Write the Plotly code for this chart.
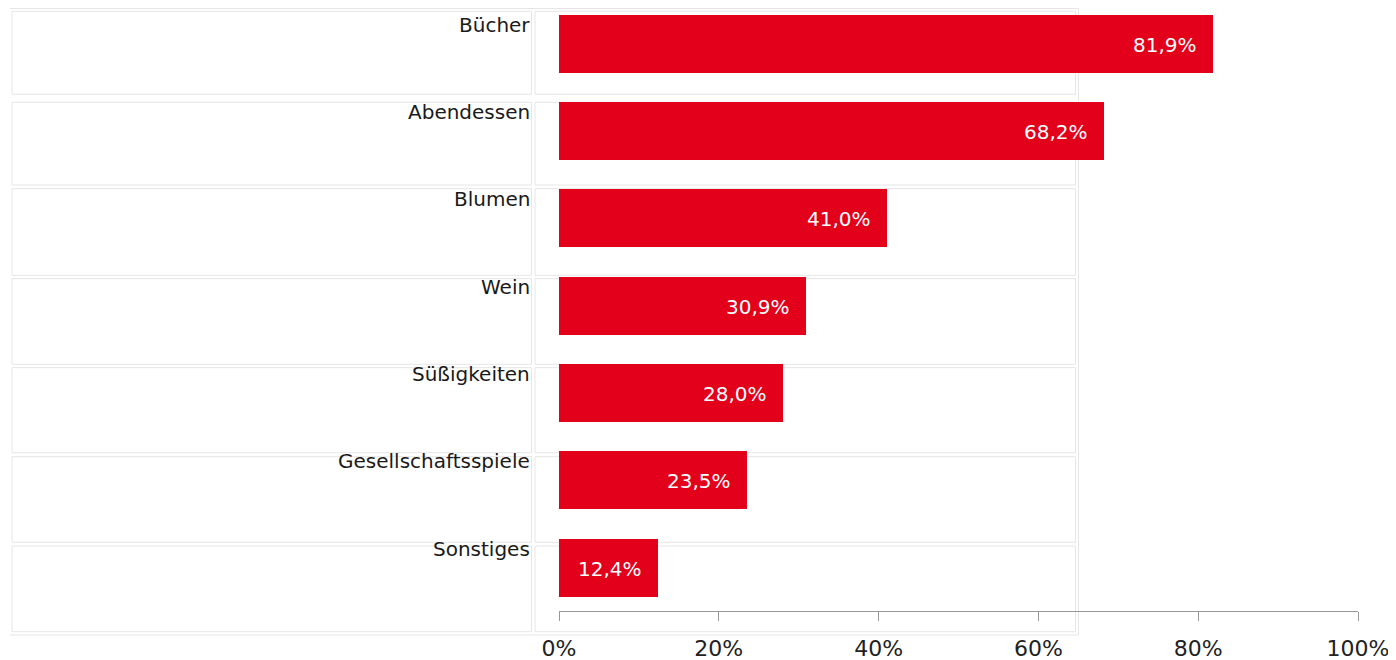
import plotly.graph_objects as go

categories = ["Bücher", "Abendessen", "Blumen", "Wein", "Süßigkeiten", "Gesellschaftsspiele", "Sonstiges"]
values = [81.9, 68.2, 41.0, 30.9, 28.0, 23.5, 12.4]
value_labels = ["81,9%", "68,2%", "41,0%", "30,9%", "28,0%", "23,5%", "12,4%"]
tick_values = [0, 20, 40, 60, 80, 100]
tick_labels = ["0%", "20%", "40%", "60%", "80%", "100%"]

# page body adds an 8px offset
OFF = 8
W, H = 1396 - OFF, 660 - OFF
ML, MR, MT, MB = 559 - OFF, 38, 0, 49
PW, PH = W - ML - MR, H - MT - MB

def px_x(p):  # screen pixel -> paper
    return (p - OFF - ML) / PW

def px_y(p):
    return 1 - (p - OFF - MT) / PH

RED = "#E2001A"
FONT = "DejaVu Sans"

fig = go.Figure()
fig.add_trace(go.Bar(
    x=values, y=categories, orientation="h",
    marker=dict(color=RED, line=dict(width=0)),
    width=0.664, hoverinfo="skip",
))

shapes = []
line_style = dict(color="#e6e6e6", width=1)
row_tops = [11.3, 102.3, 188.7, 278.7, 367.7, 456.7, 546]
row_bottoms = [94.3, 185, 275.3, 364.3, 452.7, 542.3, 631.7]
for t, b in zip(row_tops, row_bottoms):
    for x0, x1 in [(12, 531.5), (535, 1075.5)]:
        shapes.append(dict(type="rect", xref="paper", yref="paper",
                           x0=px_x(x0), x1=px_x(x1), y0=px_y(b), y1=px_y(t),
                           line=line_style, fillcolor="rgba(0,0,0,0)", layer="below"))
for (x0, y0, x1, y1) in [(10, 8.5, 1078.5, 8.5), (10, 635, 1078.5, 635), (1078.5, 8.5, 1078.5, 635)]:
    shapes.append(dict(type="line", xref="paper", yref="paper",
                       x0=px_x(x0), x1=px_x(x1), y0=px_y(y0), y1=px_y(y1),
                       line=line_style, layer="below"))

annotations = []
for c, v, lab in zip(categories, values, value_labels):
    annotations.append(dict(x=0, xref="paper", xshift=-27, y=c, yref="y", yshift=19,
                            text=c, showarrow=False, xanchor="right", yanchor="middle",
                            font=dict(family=FONT, size=20, color="#1a1a1a")))
    annotations.append(dict(x=v, xref="x", y=c, yref="y", xshift=-14, yshift=-1,
                            text=lab, showarrow=False, xanchor="right", yanchor="middle",
                            font=dict(family=FONT, size=20, color="white")))

# screen y of category centres: 43.7 + 87.35*i ; plot area spans screen 8..611
y_top = (OFF + MT - 43.7) / 87.35
y_bot = (OFF + MT + PH - 43.7) / 87.35

fig.update_layout(
    width=W, height=H,
    margin=dict(l=ML, r=MR, t=MT, b=MB, pad=0),
    plot_bgcolor="white", paper_bgcolor="white",
    showlegend=False,
    shapes=shapes, annotations=annotations,
    bargap=0,
    xaxis=dict(range=[0, 100], tickvals=tick_values, ticktext=tick_labels,
               showgrid=False, zeroline=False, showline=True, linecolor="#999999",
               linewidth=1, ticks="outside", ticklen=9, tickcolor="#999999",
               tickfont=dict(family=FONT, size=22, color="#222222"),
               ticklabelstandoff=9, fixedrange=True),
    yaxis=dict(range=[y_bot, y_top], showticklabels=False, showgrid=False,
               zeroline=False, showline=False, ticks="", fixedrange=True,
               categoryorder="array", categoryarray=categories),
)

fig.write_html("out.html")
